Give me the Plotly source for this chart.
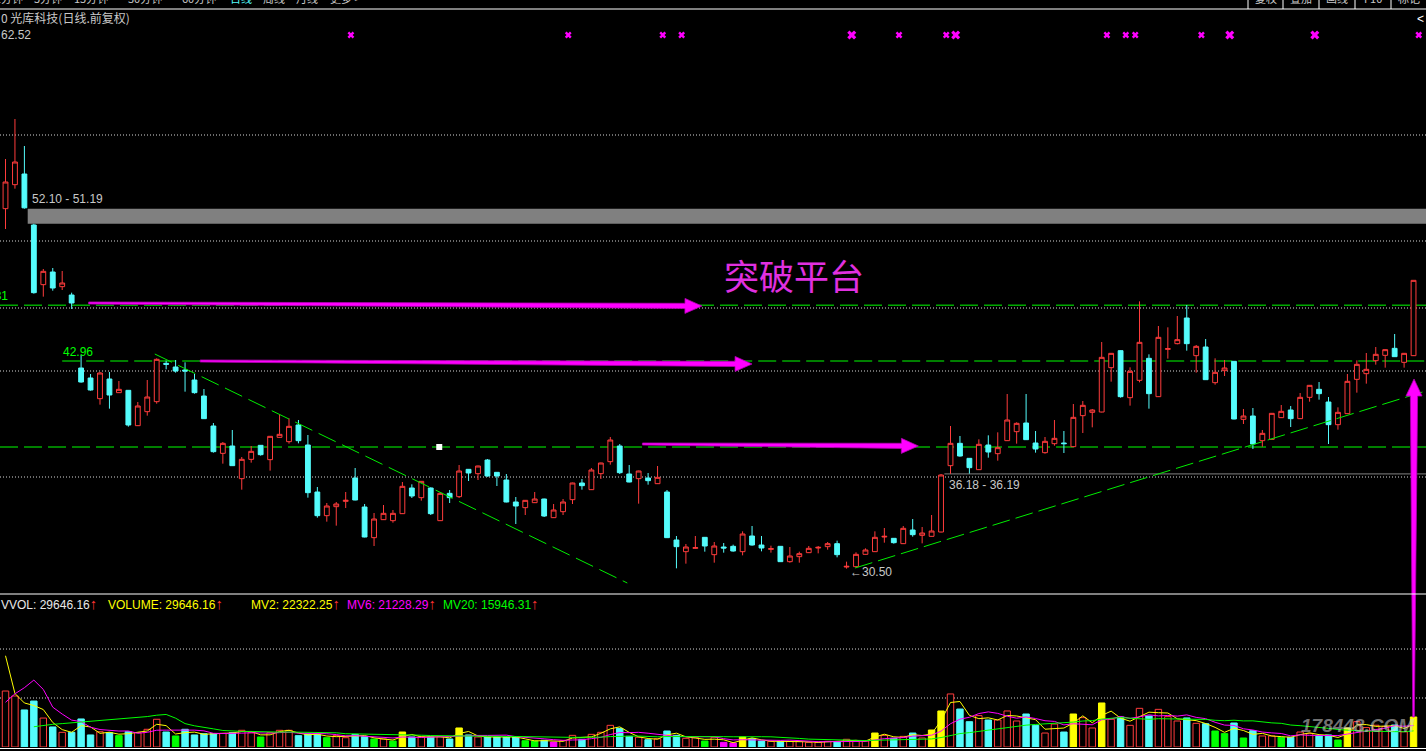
import pandas as pd
import plotly.graph_objects as go

# ---------------- daily bars (光库科技, 前复权) ----------------
open_ = [52.10, 53.54, 54.18, 51.12, 47.54, 48.30, 47.42, 46.92, 42.54, 41.94,
         40.70, 41.88, 41.06, 41.20, 39.08, 39.92, 40.52, 42.82, 42.60, 42.42,
         41.82, 40.86, 39.06, 37.42, 37.86, 35.90, 37.06, 37.90, 37.04, 38.38,
         38.12, 39.12, 37.92, 35.10, 33.68, 34.22, 34.54, 35.94, 34.20, 32.36,
         33.44, 33.38, 33.80, 35.34, 34.76, 35.34, 33.38, 35.02, 34.82, 36.46,
         36.20, 37.02, 36.28, 35.82, 34.50, 34.16, 34.46, 34.68, 33.56, 33.92,
         34.64, 35.64, 35.24, 36.20, 36.92, 37.86, 36.18, 35.90, 35.94, 35.60,
         35.10, 32.22, 31.52, 31.72, 32.38, 31.34, 31.80, 31.84, 31.52, 32.46,
         31.92, 31.66, 31.84, 30.92, 31.22, 31.46, 31.74, 31.82, 32.00, 30.60,
         30.62, 31.36, 31.52, 32.40, 32.32, 32.00, 32.82, 32.50, 32.44, 32.70,
         36.68, 38.02, 37.12, 36.44, 37.92, 37.40, 38.18, 38.72, 39.24, 38.04,
         37.46, 38.00, 38.04, 37.82, 39.68, 39.88, 39.90, 42.56, 43.58, 40.76,
         41.80, 43.12, 40.82, 43.66, 44.00, 45.54, 43.28, 43.80, 41.66, 42.38,
         42.94, 39.46, 39.66, 38.18, 38.26, 39.56, 40.02, 39.50, 40.78, 41.26,
         40.50, 39.14, 39.80, 41.86, 42.20, 42.98, 43.30, 43.72, 42.88, 43.28]
high = [55.08, 57.48, 55.86, 51.19, 48.48, 48.54, 48.36, 47.06, 43.32, 42.18,
        42.30, 42.30, 41.76, 41.22, 40.50, 41.82, 43.12, 42.98, 43.02, 42.88,
        42.18, 41.28, 39.24, 38.10, 38.82, 37.20, 37.86, 37.92, 38.46, 39.76,
        39.52, 39.42, 38.52, 35.40, 34.44, 34.50, 35.10, 36.54, 34.38, 33.84,
        34.32, 34.02, 35.70, 35.56, 35.76, 35.38, 35.10, 35.22, 36.72, 36.48,
        36.68, 37.08, 36.30, 36.18, 34.80, 34.62, 35.10, 34.70, 34.38, 34.68,
        35.66, 35.88, 36.54, 36.86, 38.40, 37.98, 36.72, 36.38, 36.24, 36.66,
        35.22, 32.46, 31.98, 32.46, 32.40, 32.10, 32.04, 31.94, 32.74, 33.06,
        32.46, 31.88, 31.86, 31.80, 31.52, 31.86, 31.86, 32.10, 32.18, 30.92,
        31.48, 31.72, 32.74, 32.94, 32.34, 33.06, 33.48, 33.00, 33.72, 36.18,
        39.06, 38.46, 37.14, 38.26, 38.50, 38.68, 40.98, 39.28, 40.98, 38.76,
        38.40, 39.42, 38.76, 40.38, 40.56, 40.08, 44.10, 43.44, 43.60, 42.58,
        46.54, 43.36, 45.06, 44.98, 45.66, 46.32, 43.92, 44.28, 43.12, 43.02,
        42.96, 40.08, 40.14, 38.82, 39.84, 40.32, 40.26, 41.04, 41.52, 41.70,
        40.80, 40.18, 42.18, 43.00, 43.44, 43.80, 43.66, 44.58, 43.44, 47.80]
low = [50.88, 53.30, 52.10, 47.00, 46.82, 47.18, 47.22, 46.08, 41.66, 41.18,
       40.34, 40.10, 41.04, 39.02, 39.06, 39.68, 40.40, 42.46, 42.26, 41.12,
       41.00, 39.48, 37.46, 36.80, 36.66, 35.24, 36.86, 37.28, 36.38, 38.36,
       38.00, 38.02, 34.76, 33.56, 33.32, 33.08, 34.14, 34.60, 32.38, 31.86,
       33.42, 33.26, 33.78, 34.74, 34.58, 33.72, 33.36, 34.44, 34.74, 35.76,
       35.82, 36.02, 35.46, 34.48, 33.18, 33.72, 34.44, 33.60, 33.54, 33.72,
       34.38, 35.24, 35.22, 35.88, 36.74, 36.18, 35.68, 34.40, 35.54, 35.58,
       32.34, 30.52, 30.80, 31.70, 31.52, 30.86, 31.46, 31.52, 31.30, 31.88,
       31.54, 31.46, 30.90, 30.86, 30.86, 31.44, 31.42, 31.64, 31.18, 30.50,
       30.58, 31.34, 31.50, 32.06, 32.00, 31.98, 32.42, 32.02, 32.42, 32.68,
       36.19, 37.22, 36.20, 36.42, 37.16, 36.98, 38.16, 38.00, 38.22, 37.46,
       37.40, 37.88, 37.44, 37.80, 38.64, 38.98, 39.88, 41.72, 40.76, 40.28,
       41.68, 40.10, 40.80, 43.10, 43.96, 43.58, 42.26, 41.82, 41.54, 42.06,
       39.46, 39.18, 37.68, 37.82, 38.24, 39.54, 39.00, 39.48, 40.52, 40.64,
       37.98, 38.84, 39.78, 41.06, 41.60, 42.74, 42.56, 43.20, 42.56, 43.26]
close = [53.70, 54.90, 52.15, 47.06, 48.34, 47.34, 47.64, 46.44, 41.70, 41.22,
         42.24, 40.92, 41.26, 39.12, 40.26, 40.80, 43.06, 42.76, 42.36, 42.36,
         41.06, 39.50, 37.52, 38.02, 36.68, 37.06, 37.54, 37.34, 38.44, 38.56,
         39.04, 38.18, 35.06, 33.68, 34.26, 34.38, 34.60, 34.62, 32.40, 33.48,
         33.82, 33.82, 35.44, 34.86, 35.74, 33.80, 35.02, 34.76, 36.36, 36.24,
         36.66, 36.06, 36.06, 34.50, 34.26, 34.60, 34.68, 33.66, 34.02, 34.50,
         35.64, 35.48, 36.42, 36.84, 38.22, 36.26, 35.70, 36.36, 35.78, 35.98,
         32.36, 31.82, 31.80, 31.76, 31.86, 31.86, 31.74, 31.56, 32.58, 31.92,
         31.74, 31.70, 30.92, 31.26, 31.40, 31.72, 31.78, 32.00, 31.34, 30.64,
         31.36, 31.62, 32.38, 32.44, 32.06, 32.92, 32.54, 32.64, 32.76, 36.12,
         38.02, 37.26, 36.56, 37.96, 37.50, 37.76, 39.42, 39.22, 38.24, 37.68,
         38.14, 38.32, 38.00, 39.58, 40.30, 40.02, 43.18, 43.42, 40.82, 42.34,
         44.08, 41.00, 44.38, 43.70, 44.24, 44.00, 43.84, 41.84, 42.28, 42.54,
         39.48, 39.66, 37.98, 38.62, 39.82, 39.94, 39.50, 40.78, 41.50, 41.00,
         39.14, 39.88, 41.74, 42.76, 42.46, 43.36, 43.64, 43.22, 43.42, 47.80]
volume = [55300, 50400, 36600, 45400, 28600, 19800, 14500, 14500, 27700, 11900,
          15100, 14100, 11200, 15100, 14100, 17500, 27400, 14800, 10900, 17500,
          11900, 13100, 13100, 13500, 14100, 16500, 14100, 9900, 14100, 16500,
          16500, 11200, 12800, 12500, 9200, 11200, 9200, 12500, 10200, 7900,
          7900, 5900, 14800, 9900, 10200, 9900, 10200, 7900, 18800, 11900,
          9900, 9900, 9900, 9900, 9900, 6200, 5900, 6600, 4900, 6300,
          11500, 7600, 12500, 14500, 21400, 18400, 10500, 9600, 7200, 8200,
          15800, 11500, 8600, 9200, 5900, 9600, 4600, 4000, 9900, 8200,
          5900, 5600, 5600, 5600, 5600, 4600, 4600, 5600, 4900, 7600,
          5600, 5900, 13800, 11500, 8600, 10500, 13800, 8900, 16800, 35600,
          52400, 37500, 25000, 31000, 26700, 26700, 35600, 25700, 32600, 21400,
          13800, 22700, 14800, 32600, 29000, 18800, 43500, 27400, 29600, 21400,
          38200, 30600, 37200, 30000, 25700, 28700, 23400, 23000, 15800, 13200,
          23700, 8900, 16100, 10900, 10900, 9600, 9600, 14800, 13200, 11200,
          11900, 6900, 18800, 25056.46, 19200, 21500, 20300, 21725.24, 14998.34, 29646.16]
# sessions before the first visible bar (limit-up days after listing, then the opening day)
earlier_volume = [310, 260, 240, 220, 250, 230, 260, 240, 270, 250,
                  230, 260, 240, 290, 84000, 125000]

# volume bars highlighted by the indicator
vol_yellow = [42, 48, 78, 92, 98, 99, 113, 116, 142, 149]
vol_green = [12, 18, 27, 34, 39, 41, 55, 56, 74, 128, 129, 131, 135, 141]
vol_magenta = [58, 76, 77]

# signal icons along the top edge
signal_small = [36, 59, 69, 71, 94, 99, 116, 118, 119, 126, 149]
signal_big = [89, 100, 129, 138]

top_price = 62.52
gap_upper = (52.10, 51.19)
gap_lower = (36.18, 36.19)
level_full = [46.31, 37.80]
level_from_bar8 = 42.96
low_mark = 30.50
price_grid = [56.52, 50.16, 46.14, 42.36, 36.00]
vol_grid = [48400, 96800]

# hand-drawn trend lines: (bar index, price) pairs
trend_down = [(15.8, 43.38), (65.8, 29.64)]
trend_up = [(89.9, 30.54), (150.3, 41.16)]
# breakout arrows: tail and tip as (bar index, price)
arrows_h = [((8.8, 46.44), (73.7, 46.26)),
            ((20.6, 42.96), (79.0, 42.78)),
            ((67.4, 37.98), (96.6, 37.86))]
arrow_v_tip = (149.05, 41.88)
handle_point = (45.9, 37.80)

# ---------------- geometry ----------------
W, H = 1426, 751
BAR_PX = 9.45
X_LO = -5.5 / BAR_PX
X_HI = X_LO + W / BAR_PX
PRICE_ROWS = (10, 594)
VOL_ROWS = (594, 747)
PRICE_RANGE = (28.98, 64.02)
VOL_RANGE = (0, 151164)

RED = "#ff3c3c"
CYAN = "#54fcfc"
MAG = "#ff00ff"
GREEN = "#00ff00"
YEL = "#ffff00"
GREY_TXT = "#c8c8c8"
FONT = "Liberation Sans, Arial, sans-serif"
CJK = "Noto Sans CJK SC, sans-serif"


def xpx(i):
    return (i - X_LO) * BAR_PX


def ypx_price(p):
    t, b = PRICE_ROWS
    return t + (PRICE_RANGE[1] - p) / (PRICE_RANGE[1] - PRICE_RANGE[0]) * (b - t)


def ypx_vol(v):
    t, b = VOL_ROWS
    return b - (v - VOL_RANGE[0]) / (VOL_RANGE[1] - VOL_RANGE[0]) * (b - t)


def paper(x, y):
    return x / W, 1 - y / H


def arrow_path(tail, tip, w_tail, w_shaft, head_len, head_w):
    (x0, y0), (x1, y1) = tail, tip
    dx, dy = x1 - x0, y1 - y0
    length = (dx * dx + dy * dy) ** 0.5
    ux, uy = dx / length, dy / length
    nx, ny = -uy, ux
    bx, by = x1 - ux * head_len, y1 - uy * head_len
    pts = [(x0 + nx * w_tail, y0 + ny * w_tail), (bx + nx * w_shaft, by + ny * w_shaft),
           (bx + nx * head_w, by + ny * head_w), (x1, y1),
           (bx - nx * head_w, by - ny * head_w), (bx - nx * w_shaft, by - ny * w_shaft),
           (x0 - nx * w_tail, y0 - ny * w_tail)]
    segs = []
    for k, (px, py) in enumerate(pts):
        u, v = paper(px, py)
        segs.append(("M" if k == 0 else "L") + f"{u:.5f},{v:.5f}")
    return " ".join(segs) + " Z"


n = len(close)
idx = list(range(n))

# moving averages of volume, including the sessions before the window
all_vol = pd.Series(earlier_volume + volume, dtype=float)
k0 = len(earlier_volume)
mv2 = all_vol.rolling(2).mean().iloc[k0:].tolist()
mv6 = all_vol.rolling(6).mean().iloc[k0:].tolist()
mv20 = all_vol.rolling(20).mean().iloc[k0:].tolist()

# volume bar colours
fill, edge = [], []
for i in idx:
    if i in vol_yellow:
        fill.append(YEL); edge.append(YEL)
    elif i in vol_green:
        fill.append(GREEN); edge.append(GREEN)
    elif i in vol_magenta:
        fill.append(MAG); edge.append(MAG)
    elif close[i] > open_[i]:
        fill.append("#000000"); edge.append(RED)
    else:
        fill.append(CYAN); edge.append(CYAN)

fig = go.Figure()

fig.add_trace(go.Candlestick(
    x=idx, open=open_, high=high, low=low, close=close,
    increasing=dict(line=dict(color=RED, width=1), fillcolor="#000000"),
    decreasing=dict(line=dict(color=CYAN, width=1), fillcolor=CYAN),
    whiskerwidth=0, xaxis="x", yaxis="y", hoverinfo="skip", showlegend=False))

fig.add_trace(go.Bar(
    x=idx, y=volume, width=0.68, xaxis="x", yaxis="y2",
    marker=dict(color=fill, line=dict(color=edge, width=1)),
    hoverinfo="skip", showlegend=False))

for series, col in ((mv2, YEL), (mv6, MAG), (mv20, GREEN)):
    fig.add_trace(go.Scatter(x=idx, y=series, mode="lines", xaxis="x", yaxis="y2",
                             line=dict(color=col, width=1), hoverinfo="skip",
                             showlegend=False, connectgaps=False))

# signal icons
for sig, size in ((signal_small, 6), (signal_big, 8)):
    fig.add_trace(go.Scatter(
        x=[s + 0.55 for s in sig], y=[top_price] * len(sig), mode="markers",
        xaxis="x", yaxis="y",
        marker=dict(symbol="x", size=size, color=MAG, line=dict(width=0)),
        hoverinfo="skip", showlegend=False))

# drawing handle on the lower level line
fig.add_trace(go.Scatter(x=[handle_point[0]], y=[handle_point[1]], mode="markers",
                         xaxis="x", yaxis="y",
                         marker=dict(symbol="square", size=6, color="#ffffff", line=dict(width=0)),
                         hoverinfo="skip", showlegend=False))

shapes = []
# dotted grid
for g in price_grid:
    shapes.append(dict(type="line", xref="paper", yref="y", x0=0, x1=1, y0=g, y1=g,
                       line=dict(color="#d8d8d8", width=1, dash="1px,2px"), layer="below"))
for g in vol_grid:
    shapes.append(dict(type="line", xref="paper", yref="y2", x0=0, x1=1, y0=g, y1=g,
                       line=dict(color="#d8d8d8", width=1, dash="1px,2px"), layer="below"))
# green level lines
for lv in level_full:
    shapes.append(dict(type="line", xref="paper", yref="y", x0=0, x1=1, y0=lv, y1=lv,
                       line=dict(color=GREEN, width=1, dash="18px,6px"), layer="below"))
shapes.append(dict(type="line", xref="x", yref="y", x0=6.0, x1=X_HI, y0=level_from_bar8,
                   y1=level_from_bar8, line=dict(color=GREEN, width=1, dash="18px,6px"),
                   layer="below"))
# unfilled gaps
shapes.append(dict(type="rect", xref="x", yref="y", x0=2.35, x1=X_HI,
                   y0=gap_upper[1], y1=gap_upper[0], fillcolor="#808080",
                   line=dict(width=0), layer="below"))
gl = sum(gap_lower) / 2
shapes.append(dict(type="line", xref="x", yref="y", x0=99.35, x1=X_HI, y0=gl, y1=gl,
                   line=dict(color="#808080", width=1), layer="below"))
# trend lines
for (a, b), dsh in ((trend_down, "19px,7px"), (trend_up, "18px,6px")):
    shapes.append(dict(type="line", xref="x", yref="y", x0=a[0], y0=a[1], x1=b[0], y1=b[1],
                       line=dict(color="#00ee00", width=1, dash=dsh), layer="above"))
# breakout arrows
for tail, tip in arrows_h:
    t = (xpx(tail[0]), ypx_price(tail[1]))
    p = (xpx(tip[0]), ypx_price(tip[1]))
    shapes.append(dict(type="path", xref="paper", yref="paper",
                       path=arrow_path(t, p, 1.0, 2.6, 17, 7.5),
                       fillcolor=MAG, line=dict(color="#b000b0", width=0.8), layer="above"))
tail_v = (xpx(n - 1), ypx_vol(volume[-1]))
tip_v = (xpx(arrow_v_tip[0]), ypx_price(arrow_v_tip[1]))
shapes.append(dict(type="path", xref="paper", yref="paper",
                   path=arrow_path(tail_v, tip_v, 0.8, 3.6, 17, 8),
                   fillcolor=MAG, line=dict(color="#b000b0", width=0.8), layer="above"))

# frame lines
for yrow in (9, 594, 748.5):
    u, v = paper(0, yrow)
    shapes.append(dict(type="line", xref="paper", yref="paper", x0=0, x1=1, y0=v, y1=v,
                       line=dict(color="#ffffff", width=1)))
for xcol in (1248, 1283, 1319, 1355, 1391):
    shapes.append(dict(type="line", xref="paper", yref="paper", x0=xcol / W, x1=xcol / W,
                       y0=1 - 9 / H, y1=1, line=dict(color="#ffffff", width=1)))

ann = []


def txt(x, y, s, color=GREY_TXT, size=12, family=FONT, xanchor="left", **kw):
    u, v = paper(x, y)
    d = dict(xref="paper", yref="paper", x=u, y=v, text=s, showarrow=False,
             xanchor=xanchor, yanchor="middle", font=dict(color=color, size=size, family=family))
    d.update(kw)
    ann.append(d)


# toolbar (only the lower edge is on screen)
for x0, s, col in ((-7, "1分钟", GREY_TXT), (32, "5分钟", GREY_TXT), (72, "15分钟", GREY_TXT),
                   (126, "30分钟", GREY_TXT), (180, "60分钟", GREY_TXT), (228, "日线", CYAN),
                   (261, "周线", GREY_TXT), (294, "月线", GREY_TXT), (328, "更多 >", GREY_TXT)):
    txt(x0, -2, s, color=col, size=11, family=CJK)
for xc, s in ((1266, "复权"), (1301, "叠加"), (1337, "画线"), (1373, "F10"), (1409, "标记")):
    txt(xc, -2, s, size=11, family=CJK, xanchor="center")
txt(1426, 19, "<", color="#ffffff", xanchor="right")

txt(-1, 18, "0 光库科技(日线.前复权)", family=CJK)
txt(-1, 35, f"{top_price:.2f}")
txt(xpx(2.55), ypx_price(gap_upper[0]) - 10, f"{gap_upper[0]:.2f} - {gap_upper[1]:.2f}")
txt(10, ypx_price(level_full[0]) - 9, f"{level_full[0]:.2f}", color=GREEN, xanchor="right")
txt(xpx(5.9), ypx_price(level_from_bar8) - 9, f"{level_from_bar8:.2f}", color=GREEN)
txt(xpx(99.6), ypx_price(gap_lower[0]) + 11, f"{gap_lower[0]:.2f} - {gap_lower[1]:.2f}")
txt(xpx(89) + 1, ypx_price(low_mark) + 3, f"←{low_mark:.2f}")
txt(794, 274, "突破平台", color="#e030e0", size=35, family=CJK, xanchor="center")

up = "<span style='color:#ff3232;font-size:15px'>↑</span>"
txt(-1, 603, f"VVOL: {volume[-1]:.2f}{up}", color="#e8e8e8")
txt(106, 603, f"VOLUME: {volume[-1]:.2f}{up}", color=YEL)
txt(249, 603, f"MV2: {mv2[-1]:.2f}{up}", color=YEL)
txt(345, 603, f"MV6: {mv6[-1]:.2f}{up}", color=MAG)
txt(441, 603, f"MV20: {mv20[-1]:.2f}{up}", color=GREEN)

txt(1358, 725, "<b><i>178448.COM</i></b>", color="rgba(215,215,215,0.55)", size=19,
    xanchor="center")

fig.update_layout(
    width=W, height=H, margin=dict(l=0, r=0, t=0, b=0, pad=0),
    paper_bgcolor="#000000", plot_bgcolor="#000000",
    hovermode=False, showlegend=False, boxgap=0.27,
    font=dict(family=FONT, color=GREY_TXT, size=12),
    xaxis=dict(range=[X_LO, X_HI], visible=False, showgrid=False, zeroline=False,
               rangeslider=dict(visible=False), anchor="y2"),
    yaxis=dict(range=list(PRICE_RANGE), domain=[1 - PRICE_ROWS[1] / H, 1 - PRICE_ROWS[0] / H],
               visible=False, showgrid=False, zeroline=False, anchor="x"),
    yaxis2=dict(range=list(VOL_RANGE), domain=[1 - VOL_ROWS[1] / H, 1 - VOL_ROWS[0] / H],
                visible=False, showgrid=False, zeroline=False, anchor="x"),
    shapes=shapes, annotations=ann,
)

fig.write_html("out.html", config={"displayModeBar": False})
